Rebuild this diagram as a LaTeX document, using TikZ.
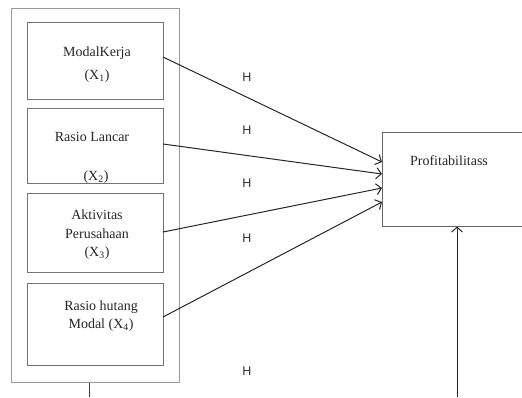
\documentclass[tikz,border=0pt]{standalone}
\usepackage{fontspec}
\setmainfont{Liberation Serif}
\newfontfamily\hfont{Liberation Sans}
\usetikzlibrary{arrows.meta}
\tikzset{
  box/.style={draw=black!55, line width=1pt, minimum width=136pt, inner sep=0pt},
  outerbox/.style={draw=black!40, line width=1pt, minimum width=168pt, minimum height=374pt, inner sep=0pt},
  txt/.style={font=\fontsize{14}{16}\selectfont, inner sep=0pt, text=black!85},
  hlab/.style={font=\hfont\fontsize{12.5}{14}\selectfont, inner sep=0pt, text=black!80},
  conn/.style={draw=black!85, line width=1pt, -{Straight Barb[length=5pt,width=11pt]}},
  plain/.style={draw=black!75, line width=1pt}
}
\begin{document}
\begin{tikzpicture}[x=1pt,y=-1pt]
\useasboundingbox (0,0) rectangle (522,397);
\node[outerbox] (outer) at (95,195) {};
\node[box, minimum height=77pt] (b1) at (95,60.5) {};
\node[box, minimum height=75pt] (b2) at (95,145.5) {};
\node[box, minimum height=79pt] (b3) at (95,232.5) {};
\node[box, minimum height=82pt] (b4) at (95,324) {};
\node[draw=black!60, line width=1pt, minimum width=150pt, minimum height=94pt, inner sep=0pt] (prof) at (457,179) {};

\node[txt] (t1a) at (97,53) {ModalKerja};
\node[txt] (t1b) at (97,76) {(X\textsubscript{1})};
\node[txt] (t2a) at (92,137) {Rasio Lancar};
\node[txt] (t2b) at (96,177) {(X\textsubscript{2})};
\node[txt] (t3a) at (97,215) {Aktivitas};
\node[txt] (t3b) at (97,234) {Perusahaan};
\node[txt] (t3c) at (97,253) {(X\textsubscript{3})};
\node[txt] (t4a) at (101,307) {Rasio hutang};
\node[txt] (t4b) at (101,325) {Modal (X\textsubscript{4})};
\node[txt] (tp) at (449,161) {Profitabilitass};

\node[hlab] (h1) at (247,77) {H};
\node[hlab] (h2) at (247,130) {H};
\node[hlab] (h3) at (247,183) {H};
\node[hlab] (h4) at (247,238) {H};
\node[hlab] (h5) at (247,371) {H};

\coordinate (e1) at (382,162);
\coordinate (e2) at (382,174);
\coordinate (e3) at (382,188);
\coordinate (e4) at (382,202);
\coordinate (s1) at (163,57);
\coordinate (s2) at (163,144);
\coordinate (s3) at (163,232);
\coordinate (s4) at (163,317);
\draw[conn] (s1) -- (e1);
\draw[conn] (s2) -- (e2);
\draw[conn] (s3) -- (e3);
\draw[conn] (s4) -- (e4);

\coordinate (bl) at (89,397);
\coordinate (br) at (457,397);
\draw[plain] (outer.south -| bl) -- (bl);
\draw[conn] (br) -- (prof.south -| br);
\end{tikzpicture}
\end{document}
